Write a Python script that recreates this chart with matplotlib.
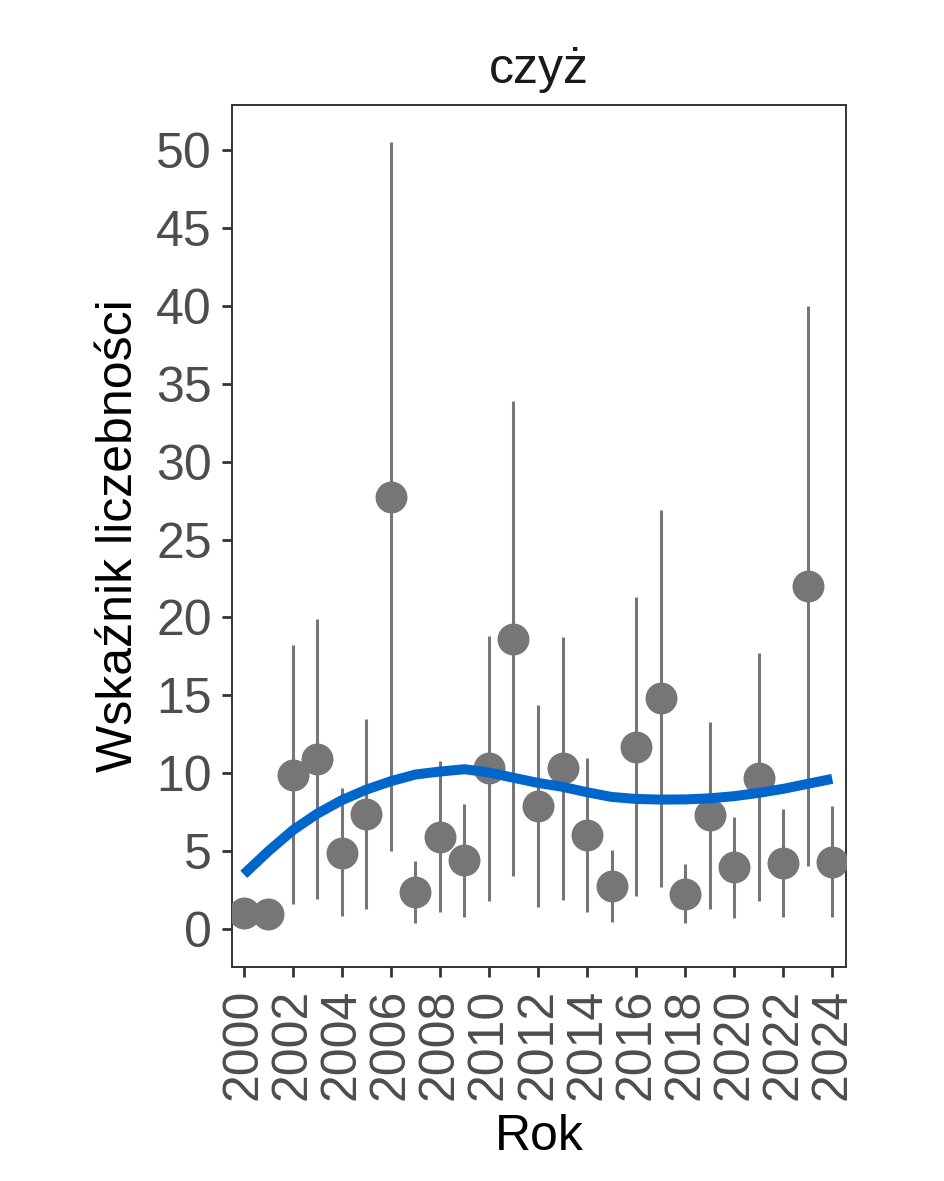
import matplotlib
matplotlib.use("Agg")
import matplotlib.pyplot as plt
import numpy as np

years = list(range(2000, 2025))
index_vals = [1.0, 0.98, 9.9, 10.9, 4.9, 7.4, 27.7, 2.35, 5.9, 4.4, 10.3, 18.6, 7.9,
              10.3, 6.05, 2.75, 11.7, 14.8, 2.25, 7.3, 3.95, 9.7, 4.2, 22.0, 4.3]
ci_low = [None, None, 1.6, 1.9, 0.8, 1.25, 5.0, 0.36, 1.05, 0.75, 1.8, 3.4, 1.4,
          1.85, 1.05, 0.47, 2.1, 2.7, 0.36, 1.3, 0.7, 1.8, 0.75, 4.05, 0.77]
ci_high = [None, None, 18.2, 19.9, 9.05, 13.5, 50.5, 4.33, 10.8, 8.0, 18.8, 33.9, 14.35,
           18.75, 11.0, 5.08, 21.3, 26.9, 4.16, 13.3, 7.2, 17.7, 7.7, 40.0, 7.87]
trend = [3.5, 4.98, 6.33, 7.4, 8.26, 8.94, 9.48, 9.91, 10.1, 10.25, 10.04, 9.7, 9.37,
         9.12, 8.77, 8.47, 8.34, 8.3, 8.31, 8.38, 8.52, 8.73, 8.99, 9.31, 9.63]
y_ticks = [0, 5, 10, 15, 20, 25, 30, 35, 40, 45, 50]
x_ticks = list(range(2000, 2025, 2))

plt.rcParams['font.family'] = ['Liberation Sans', 'DejaVu Sans']
DPI = 100
fig = plt.figure(figsize=(9.44, 11.81), dpi=DPI)
ax = fig.add_axes([232/944, 1-967/1181, (846-232)/944, (967-105)/1181])

grey = '#767676'
for yr, lo, hi in zip(years, ci_low, ci_high):
    if lo is not None:
        ax.vlines(yr, lo, hi, color=grey, linewidth=2.2, zorder=2)
ax.plot(years, index_vals, 'o', color=grey, markersize=23, markeredgewidth=0, zorder=3)
ax.plot(years, trend, color='#0066CC', linewidth=7.2, solid_capstyle='butt',
        solid_joinstyle='round', zorder=4)

ax.set_xlim(1999.52, 2024.56)
ax.set_ylim(-2.45, 52.9)
ax.set_yticks(y_ticks)
ax.set_xticks(x_ticks)
ax.set_xticklabels([str(x) for x in x_ticks], rotation=90)

fs = 36
for s in ax.spines.values():
    s.set_color('#333333')
    s.set_linewidth(1.4)
ax.tick_params(axis='both', length=7.5, width=2.0, color='#333333',
               labelsize=fs, labelcolor='#4D4D4D')
ax.tick_params(axis='y', pad=7)
ax.tick_params(axis='x', pad=8)

ax.set_title('czyż', fontsize=fs, color='#1a1a1a', pad=16)
ax.set_xlabel('Rok', fontsize=fs, color='black', labelpad=10)
ax.set_ylabel('Wskaźnik liczebności', fontsize=fs, color='black', labelpad=10)

fig.savefig('out.png', dpi=DPI)
